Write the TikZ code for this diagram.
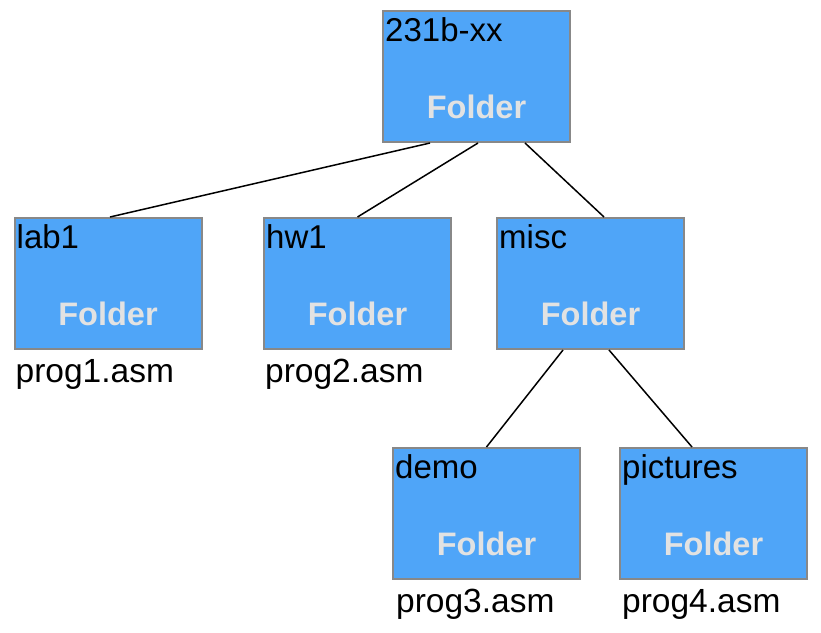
\documentclass[tikz,border=0pt]{standalone}
\usepackage{fontspec}
\setmainfont{Liberation Sans}
\usetikzlibrary{calc}
\definecolor{boxblue}{RGB}{79,165,248}
\definecolor{boxedge}{RGB}{136,136,136}
\definecolor{foldertxt}{RGB}{226,226,226}
\tikzset{
  folderbox/.style={draw=boxedge, line width=2pt, fill=boxblue, minimum width=187pt, minimum height=131pt, inner sep=0pt},
  nametxt/.style={anchor=base west, inner sep=0pt, font=\fontsize{33}{33}\selectfont},
  foldertag/.style={anchor=base, inner sep=0pt, text=foldertxt, font=\fontsize{32.5}{32.5}\selectfont\bfseries},
  filetxt/.style={anchor=base west, inner sep=0pt, font=\fontsize{33.5}{33.5}\selectfont},
  link/.style={line width=1.5pt, black}
}
\begin{document}
\begin{tikzpicture}[x=1pt,y=-1pt]
\useasboundingbox (0,0) rectangle (821,632);
% boxes
\node[folderbox] (root) at (476.5,76.5) {};
\node[folderbox] (lab1) at (108,283.5) {};
\node[folderbox] (hw1) at (357.5,283.5) {};
\node[folderbox] (misc) at (590.5,283.5) {};
\node[folderbox] (demo) at (486.5,513.5) {};
\node[folderbox] (pictures) at (713.5,513.5) {};
% names
\node[nametxt] (rootname) at ($(root.north west)+(3,31)$) {231b-xx};
\node[nametxt] (lab1name) at ($(lab1.north west)+(3,31)$) {lab1};
\node[nametxt] (hw1name) at ($(hw1.north west)+(3,31)$) {hw1};
\node[nametxt] (miscname) at ($(misc.north west)+(3,31)$) {misc};
\node[nametxt] (demoname) at ($(demo.north west)+(3,31)$) {demo};
\node[nametxt] (picturesname) at ($(pictures.north west)+(3,31)$) {pictures};
% folder tags
\node[foldertag] (roottag) at ($(root.north)+(0,108)$) {Folder};
\node[foldertag] (lab1tag) at ($(lab1.north)+(0,108)$) {Folder};
\node[foldertag] (hw1tag) at ($(hw1.north)+(0,108)$) {Folder};
\node[foldertag] (misctag) at ($(misc.north)+(0,108)$) {Folder};
\node[foldertag] (demotag) at ($(demo.north)+(0,108)$) {Folder};
\node[foldertag] (picturestag) at ($(pictures.north)+(0,108)$) {Folder};
% files
\node[filetxt] (f1) at ($(lab1.south west)+(2,32)$) {prog1.asm};
\node[filetxt] (f2) at ($(hw1.south west)+(2,32)$) {prog2.asm};
\node[filetxt] (f3) at ($(demo.south west)+(4,32)$) {prog3.asm};
\node[filetxt] (f4) at ($(pictures.south west)+(3,32)$) {prog4.asm};
% connectors
\draw[link] ($(root.south)+(-46.5,0)$) -- ($(lab1.north)+(2,0)$);
\draw[link] ($(root.south)+(1.5,0)$) -- ($(hw1.north)+(0,0)$);
\draw[link] ($(root.south)+(48.5,0)$) -- ($(misc.north)+(13.5,0)$);
\draw[link] ($(misc.south)+(-27.5,0)$) -- ($(demo.north)+(0,0)$);
\draw[link] ($(misc.south)+(18.5,0)$) -- ($(pictures.north)+(-21.5,0)$);
\end{tikzpicture}
\end{document}
